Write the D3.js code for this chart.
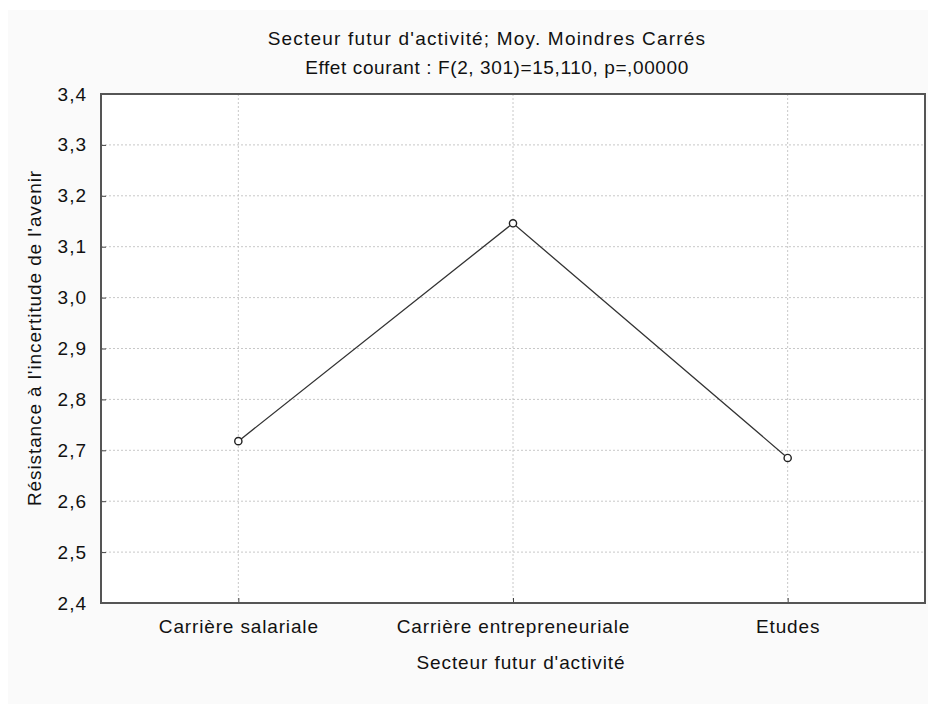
<!DOCTYPE html>
<html><head><meta charset="utf-8">
<script src="https://cdn.jsdelivr.net/npm/d3@7"></script>
<style>
body{margin:0;background:#fff;}
text{font-family:"Liberation Sans",Arial,sans-serif;fill:#111;}
</style></head>
<body><svg id="c" width="930" height="704"></svg>
<script>
const categories = ["Carrière salariale", "Carrière entrepreneuriale", "Etudes"];
const means = [2.718, 3.146, 2.685];
const yTicks = [2.4, 2.5, 2.6, 2.7, 2.8, 2.9, 3.0, 3.1, 3.2, 3.3, 3.4];
const titleLines = ["Secteur futur d'activité; Moy. Moindres Carrés", "Effet courant : F(2, 301)=15,110, p=,00000"];
const xTitle = "Secteur futur d'activité";
const yTitle = "Résistance à l'incertitude de l'avenir";

const svg = d3.select("#c");
const W = 930, H = 704;
const m = {l: 101, r: 5, t: 94, b: 101};
const pw = W - m.l - m.r, ph = H - m.t - m.b;
const FS = "19px";

svg.append("rect").attr("x", 8).attr("y", 10).attr("width", 920).attr("height", 694).attr("fill", "#fafafa");

const x = d3.scalePoint().domain(categories).range([0, pw]).padding(0.5);
const y = d3.scaleLinear().domain([2.4, 3.4]).range([ph, 0]);

const g = svg.append("g").attr("transform", `translate(${m.l},${m.t})`);
g.append("rect").attr("width", pw).attr("height", ph).attr("fill", "#fff");

// grid
g.selectAll(".hg").data(yTicks.slice(1, -1)).join("line")
  .attr("x1", 0).attr("x2", pw).attr("y1", d => y(d)).attr("y2", d => y(d))
  .attr("stroke", "#c8c8c8").attr("stroke-width", 1).attr("stroke-dasharray", "2,2");
g.selectAll(".vg").data(categories).join("line")
  .attr("x1", d => x(d)).attr("x2", d => x(d)).attr("y1", 0).attr("y2", ph)
  .attr("stroke", "#c8c8c8").attr("stroke-width", 1).attr("stroke-dasharray", "2,2");

// axes
const fmt = d => d3.format(".1f")(d).replace(".", ",");
const ya = g.append("g").call(d3.axisLeft(y).tickValues(yTicks).tickFormat(fmt).tickSize(-5).tickPadding(14));
ya.select(".domain").remove();
ya.selectAll("line").attr("stroke", "#444");
ya.selectAll("text").style("font-size", FS).style("letter-spacing", "1px").attr("fill", "#111");

const xa = g.append("g").attr("transform", `translate(0,${ph})`)
  .call(d3.axisBottom(x).tickSize(-5).tickPadding(17));
xa.select(".domain").remove();
xa.selectAll("line").attr("stroke", "#444");
xa.selectAll("text").style("font-size", FS).style("letter-spacing", "0.85px").attr("fill", "#111");

// frame
g.append("rect").attr("width", pw).attr("height", ph).attr("fill", "none")
  .attr("stroke", "#555").attr("stroke-width", 2);

// line
const pts = categories.map((c, i) => [x(c), y(means[i])]);
g.append("path").attr("d", d3.line()(pts)).attr("fill", "none").attr("stroke", "#333").attr("stroke-width", 1.3);
g.selectAll(".pt").data(pts).join("circle")
  .attr("cx", d => d[0]).attr("cy", d => d[1]).attr("r", 3.6)
  .attr("fill", "#fff").attr("stroke", "#222").attr("stroke-width", 1.4);

// titles
const tSpacing = ["1.2px", "0.6px"];
const tX = [487, 497];
svg.selectAll(".tt").data(titleLines).join("text")
  .attr("x", (d, i) => tX[i]).attr("y", (d, i) => 45 + i * 29).attr("text-anchor", "middle")
  .style("font-size", FS).style("letter-spacing", (d, i) => tSpacing[i]).text(d => d);
svg.append("text").attr("x", 521).attr("y", 669).attr("text-anchor", "middle")
  .style("font-size", FS).style("letter-spacing", "0.9px").text(xTitle);
svg.append("text").attr("transform", `translate(41,338) rotate(-90)`)
  .attr("text-anchor", "middle").style("font-size", FS).style("letter-spacing", "0.9px").text(yTitle);
</script></body></html>
